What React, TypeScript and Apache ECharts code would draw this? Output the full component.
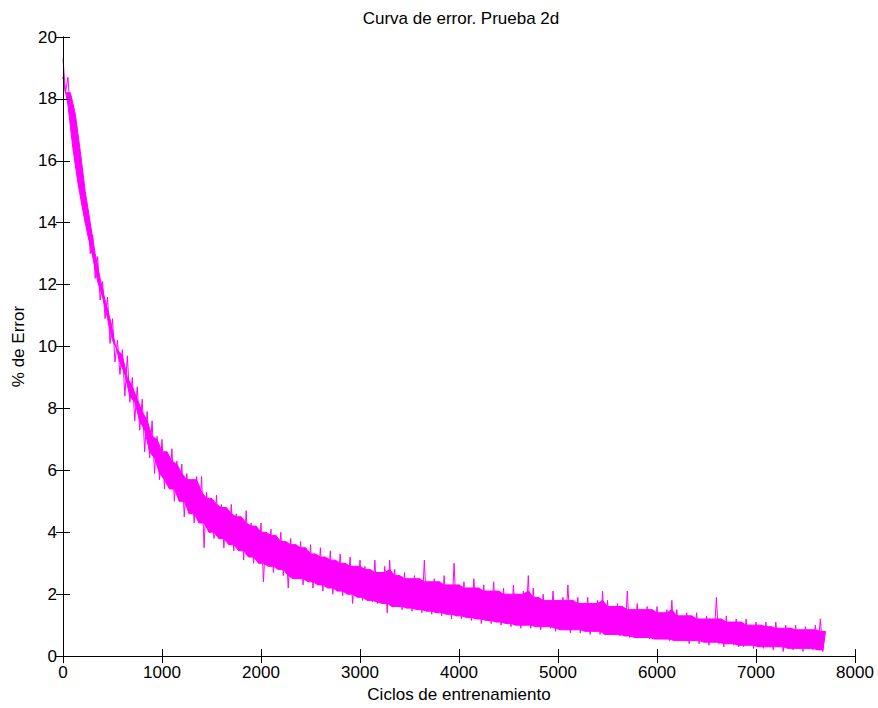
import React, { useEffect, useRef } from "react";
import * as echarts from "echarts";

// Band of the noisy error curve.
// upper[k] is the value at cycle k*50, lower[k] at cycle k*50+25.
const sampleStep = 50;
const halfStep = 25;
const upper = [
  19.3, 18.7, 17.8, 16.4, 15.3, 14.4, 13.6, 12.9, 12.1, 11.6,
  10.9, 10.2, 9.9, 9.7, 9.0, 8.7, 8.3, 7.9, 7.6, 7.1,
  7.0, 6.6, 6.7, 6.3, 6.2, 5.9, 5.7, 5.8, 5.8, 5.3,
  5.1, 5.2, 4.9, 4.8, 4.9, 4.6, 4.5, 4.7, 4.3, 4.2,
  4.3, 4.0, 4.1, 3.9, 4.0, 3.7, 3.8, 3.6, 3.7, 3.5,
  3.6, 3.3, 3.5, 3.2, 3.4, 3.1, 3.3, 3.0, 3.2, 2.9,
  3.1, 2.9, 2.8, 3.1, 2.7, 2.9, 3.1, 2.8, 2.6, 2.7,
  2.5, 2.6, 2.5, 3.1, 2.4, 2.5, 2.4, 2.6, 2.3, 3.0,
  2.3, 2.4, 2.2, 2.5, 2.2, 2.3, 2.1, 2.4, 2.1, 2.2,
  2.0, 2.3, 2.0, 2.1, 2.6, 2.2, 1.9, 2.0, 1.8, 2.1,
  1.8, 1.9, 2.3, 1.8, 1.9, 1.7, 1.9, 1.7, 1.8, 2.1,
  1.8, 1.6, 1.7, 1.6, 2.1, 1.5, 1.7, 1.5, 1.6, 1.5,
  1.6, 1.4, 1.5, 1.8, 1.5, 1.3, 1.4, 1.3, 1.4, 1.2,
  1.3, 1.2, 1.9, 1.2, 1.3, 1.1, 1.2, 1.1, 1.2, 1.0,
  1.1, 1.0, 1.1, 0.95, 1.1, 0.9, 1.0, 0.9, 1.0, 0.85,
  0.95, 0.85, 1.0, 1.2, 0.8,
];
const lower = [
  18.2, 17.5, 16.3, 15.0, 14.0, 13.0, 12.2, 11.5, 10.9, 10.1,
  9.5, 9.1, 8.4, 8.2, 7.6, 7.3, 6.6, 6.4, 5.9, 5.7,
  5.4, 5.4, 5.0, 5.0, 4.5, 4.6, 4.3, 4.3, 3.5, 4.0,
  3.8, 3.8, 3.5, 3.6, 3.4, 3.4, 3.1, 3.2, 3.0, 3.0,
  2.4, 2.9, 2.7, 2.8, 2.6, 2.2, 2.5, 2.5, 2.3, 2.4,
  2.2, 2.3, 2.1, 2.2, 2.0, 2.1, 1.95, 2.0, 1.7, 1.9,
  1.8, 1.8, 1.75, 1.7, 1.7, 1.4, 1.6, 1.6, 1.5, 1.55,
  1.45, 1.5, 1.4, 1.45, 1.35, 1.4, 1.3, 1.35, 1.2, 1.3,
  1.2, 1.25, 1.15, 1.2, 1.05, 1.15, 1.05, 1.1, 1.0, 1.05,
  0.95, 1.0, 0.9, 1.0, 0.9, 0.95, 0.85, 0.95, 0.9, 0.8,
  0.85, 0.85, 0.75, 0.85, 0.75, 0.8, 0.7, 0.8, 0.7, 0.7,
  0.7, 0.7, 0.65, 0.65, 0.6, 0.6, 0.6, 0.6, 0.55, 0.55,
  0.55, 0.55, 0.5, 0.5, 0.5, 0.5, 0.4, 0.5, 0.4, 0.45,
  0.35, 0.45, 0.4, 0.3, 0.4, 0.35, 0.3, 0.3, 0.35, 0.25,
  0.3, 0.25, 0.3, 0.2, 0.3, 0.15, 0.25, 0.2, 0.25, 0.15,
  0.25, 0.2, 0.2, 0.15,
];

const titleText = "Curva de error. Prueba 2d";
const xName = "Ciclos de entrenamiento";
const yName = "% de Error";

export default function App() {
  const ref = useRef<HTMLDivElement>(null);
  useEffect(() => {
    if (!ref.current) return;
    document.body.style.margin = "0";
    const chart = echarts.init(ref.current, undefined, { renderer: "svg" });
    const data: [number, number][] = [];
    for (let k = 0; k < upper.length; k++) {
      data.push([k * sampleStep, upper[k]]);
      if (k < lower.length) data.push([k * sampleStep + halfStep, lower[k]]);
    }
    const font = "'Liberation Sans', Arial, Helvetica, sans-serif";
    const axisLine = { show: true, lineStyle: { color: "#000", width: 1 } };
    const tick = { show: true, inside: true, length: 7, lineStyle: { color: "#000" } };
    const labelStyle = { fontFamily: font, fontSize: 17, color: "#000" };
    chart.setOption({
      animation: false,
      backgroundColor: "#fff",
      title: {
        text: titleText,
        left: 456,
        textAlign: "center",
        top: 5,
        textStyle: { fontFamily: font, fontSize: 17, fontWeight: "normal", color: "#000" },
      },
      grid: { left: 63, right: 23, top: 37, bottom: 50, containLabel: false },
      xAxis: [
        {
          type: "value",
          min: 0,
          max: 8000,
          interval: 1000,
          name: xName,
          nameLocation: "middle",
          nameGap: 27,
          nameTextStyle: labelStyle,
          axisLine,
          axisTick: tick,
          splitLine: { show: false },
          axisLabel: { ...labelStyle, margin: 8, formatter: (v: number) => String(v) },
          z: 5,
        },
        {
          type: "value",
          position: "top",
          min: 0,
          max: 8000,
          interval: 1000,
          axisLine,
          axisTick: tick,
          splitLine: { show: false },
          axisLabel: { show: false },
          z: 5,
        },
      ],
      yAxis: [
        {
          type: "value",
          min: 0,
          max: 20,
          interval: 2,
          name: yName,
          nameLocation: "middle",
          nameGap: 31,
          nameTextStyle: labelStyle,
          axisLine,
          axisTick: tick,
          splitLine: { show: false },
          axisLabel: { ...labelStyle, margin: 6 },
          z: 5,
        },
        {
          type: "value",
          position: "right",
          min: 0,
          max: 20,
          interval: 2,
          axisLine,
          axisTick: tick,
          splitLine: { show: false },
          axisLabel: { show: false },
          z: 5,
        },
      ],
      series: [
        {
          // solid core of the band: the lowest peak / highest trough among neighbours
          type: "custom",
          coordinateSystem: "cartesian2d",
          xAxisIndex: 0,
          yAxisIndex: 0,
          silent: true,
          data: [[0, 0]],
          renderItem: (_params: any, api: any) => {
            const pts: number[][] = [];
            for (let k = 0; k < upper.length; k++) {
              const prev = k > 0 ? upper[k - 1] : upper[k];
              const next = k < upper.length - 1 ? upper[k + 1] : upper[k];
              const core = Math.min(upper[k], prev, next);
              pts.push(api.coord([k * sampleStep, core]));
            }
            for (let k = lower.length - 1; k >= 0; k--) {
              const prev = k > 0 ? lower[k - 1] : lower[k];
              const next = k < lower.length - 1 ? lower[k + 1] : lower[k];
              const core = Math.max(lower[k], prev, next);
              pts.push(api.coord([k * sampleStep + halfStep, core]));
            }
            return {
              type: "polygon",
              shape: { points: pts },
              style: { fill: "#ff00ff", stroke: "#ff00ff", lineWidth: 1 },
            };
          },
        },
        {
          type: "line",
          data,
          xAxisIndex: 0,
          yAxisIndex: 0,
          showSymbol: false,
          symbol: "none",
          lineStyle: { color: "#ff00ff", width: 1 },
        },
      ],
    });
    return () => chart.dispose();
  }, []);
  return <div ref={ref} style={{ width: 878, height: 708 }} />;
}
